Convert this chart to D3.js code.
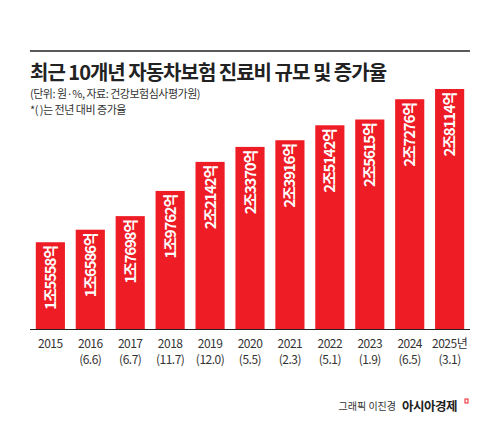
<!DOCTYPE html><html><head><meta charset="utf-8"><script src="https://cdn.jsdelivr.net/npm/d3@7"></script>
<style>body{margin:0;background:#fff}text{font-family:"Noto Sans CJK KR","Noto Sans",sans-serif}</style></head><body>
<svg id="c" width="500" height="446"></svg>
<script>
const years=["2015","2016","2017","2018","2019","2020","2021","2022","2023","2024","2025년"];
const rates=["","(6.6)","(6.7)","(11.7)","(12.0)","(5.5)","(2.3)","(5.1)","(1.9)","(6.5)","(3.1)"];
const values=[15558,16586,17698,19762,22142,23370,23916,25142,25615,27276,28114];
const labels=["1조5558억","1조6586억","1조7698억","1조9762억","2조2142억","2조3370억","2조3916억","2조5142억","2조5615억","2조7276억","2조8114억"];
const svg=d3.select("#c");
const red="#ee1c25";
svg.append("line").attr("x1",30).attr("x2",470).attr("y1",51).attr("y2",51).attr("stroke","#222").attr("stroke-width",1.5);
svg.append("text").attr("x",30).attr("y",80).attr("font-size",20).attr("font-weight",700).attr("fill","#222").attr("letter-spacing",-1).text("최근 10개년 자동차보험 진료비 규모 및 증가율");
svg.append("text").attr("x",30).attr("y",98).attr("font-size",11).attr("fill","#333").attr("letter-spacing",-0.5).text("(단위: 원·%, 자료: 건강보험심사평가원)");
svg.append("text").attr("x",30).attr("y",114).attr("font-size",11).attr("fill","#333").attr("letter-spacing",-0.5).text("*(  )는 전년 대비 증가율");
const x=d3.scaleBand().domain(years).range([31,469]).paddingInner(0.27).paddingOuter(0.12);
const y=d3.scaleLinear().domain([8450,28114]).range([329,89]);
const g=svg.append("g");
g.selectAll("rect").data(values).join("rect").attr("x",(d,i)=>x(years[i])).attr("width",x.bandwidth()).attr("y",d=>y(d)).attr("height",d=>329-y(d)).attr("fill",red);
g.selectAll("text.l").data(values).join("text").attr("class","l").attr("fill","#fff").attr("font-size",15).attr("font-weight",700).attr("letter-spacing",-1.2).attr("text-anchor","end")
 .attr("transform",(d,i)=>`translate(${x(years[i])+x.bandwidth()/2+5.5},${y(d)+4}) rotate(-90)`).text((d,i)=>labels[i]);
svg.append("line").attr("x1",30).attr("x2",470).attr("y1",329.5).attr("y2",329.5).attr("stroke","#222");
const ax=svg.append("g");
years.forEach((yr,i)=>{const cx=x(yr)+x.bandwidth()/2;
 ax.append("text").attr("x",cx).attr("y",348).attr("text-anchor","middle").attr("font-size",12).attr("fill","#333").attr("letter-spacing",-0.5).text(yr);
 ax.append("text").attr("x",cx).attr("y",364).attr("text-anchor","middle").attr("font-size",12).attr("fill","#333").attr("letter-spacing",-0.5).text(rates[i]);});
svg.append("text").attr("x",396).attr("y",410).attr("text-anchor","end").attr("font-size",10).attr("fill","#333").text("그래픽 이진경");
svg.append("text").attr("x",402).attr("y",411).attr("font-size",12.5).attr("font-weight",700).attr("fill","#222").attr("letter-spacing",-0.5).text("아시아경제");
svg.append("rect").attr("x",465).attr("y",399).attr("width",3).attr("height",4).attr("fill","none").attr("stroke",red).attr("stroke-width",1);
</script></body></html>
